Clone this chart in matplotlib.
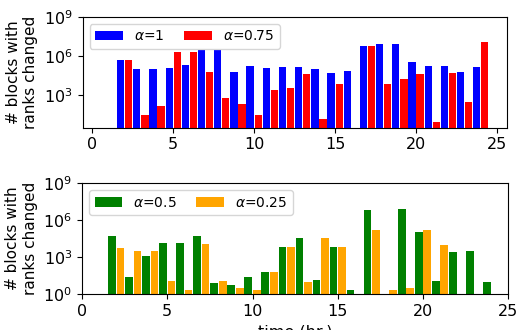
import numpy as np
import matplotlib
matplotlib.use("Agg")
import matplotlib.pyplot as plt

# hours of the day with a rank update
hours = np.arange(2, 25)

# number of blocks whose rank changed, per hour (0 = no change)
alpha_1 = [4.9e5, 1.0e5, 1.0e5, 1.2e5, 2.0e5, 2.9e6, 2.9e6, 5.9e4, 1.7e5,
           1.2e5, 1.4e5, 1.4e5, 1.0e5, 4.9e4, 7.1e4, 5.9e6, 8.3e6, 8.3e6,
           3.5e5, 1.7e5, 1.7e5, 5.9e4, 1.4e5]
alpha_075 = [4.9e5, 29, 141, 2.0e6, 2.0e6, 5.9e4, 589, 204, 29,
             2.4e3, 3.5e3, 4.2e4, 14, 7.1e3, 3.2, 5.9e6, 7.1e3, 1.7e4,
             4.2e4, 8.3, 4.9e4, 288, 1.2e7]
alpha_05 = [4.9e4, 24, 1.2e3, 1.3e4, 1.3e4, 4.9e4, 8, 5, 24,
            60, 6.3e3, 3.4e4, 13, 6.3e3, 2, 6.2e6, 0, 7.4e6,
            1.0e5, 11, 2.5e3, 3.0e3, 9]
alpha_025 = [5.2e3, 3.0e3, 3.0e3, 11, 2, 1.1e4, 11, 3, 2,
             60, 6.3e3, 9, 3.4e4, 6.3e3, 0, 1.5e5, 2, 3,
             1.5e5, 9.1e3, 0, 0, 0]

plt.rcParams['font.size'] = 11

fig = plt.figure(figsize=(5.16, 3.3), dpi=100)
ax1 = fig.add_axes([0.160, 0.613, 0.822, 0.336])
ax2 = fig.add_axes([0.159, 0.109, 0.826, 0.336])

w = 0.45
ax1.bar(hours - 0.25, alpha_1, width=w, color='blue', label=r'$\alpha$=1')
ax1.bar(hours + 0.25, alpha_075, width=w, color='red', label=r'$\alpha$=0.75')
ax2.bar(hours - 0.25, alpha_05, width=w, color='green', label=r'$\alpha$=0.5')
ax2.bar(hours + 0.25, alpha_025, width=w, color='orange', label=r'$\alpha$=0.25')

for ax in (ax1, ax2):
    ax.set_yscale('log')
    ax.minorticks_off()
    ax.set_ylabel('# blocks with\nranks changed', fontsize=11)
    ax.tick_params(labelsize=11.5)
    ax.legend(loc='upper left', ncol=2, fontsize=10, columnspacing=1.4)

ax1.set_ylim(10 ** 0.49, 1e9)
ax1.set_yticks([1e3, 1e6, 1e9])
ax1.set_xlim(-0.6, 25.6)
ax1.set_xticks([0, 5, 10, 15, 20, 25])

ax2.set_ylim(1, 1e9)
ax2.set_yticks([1, 1e3, 1e6, 1e9])
ax2.set_xlim(0, 25)
ax2.set_xlabel('time (hr.)', fontsize=11.5)

fig.savefig('out.png', dpi=100)
